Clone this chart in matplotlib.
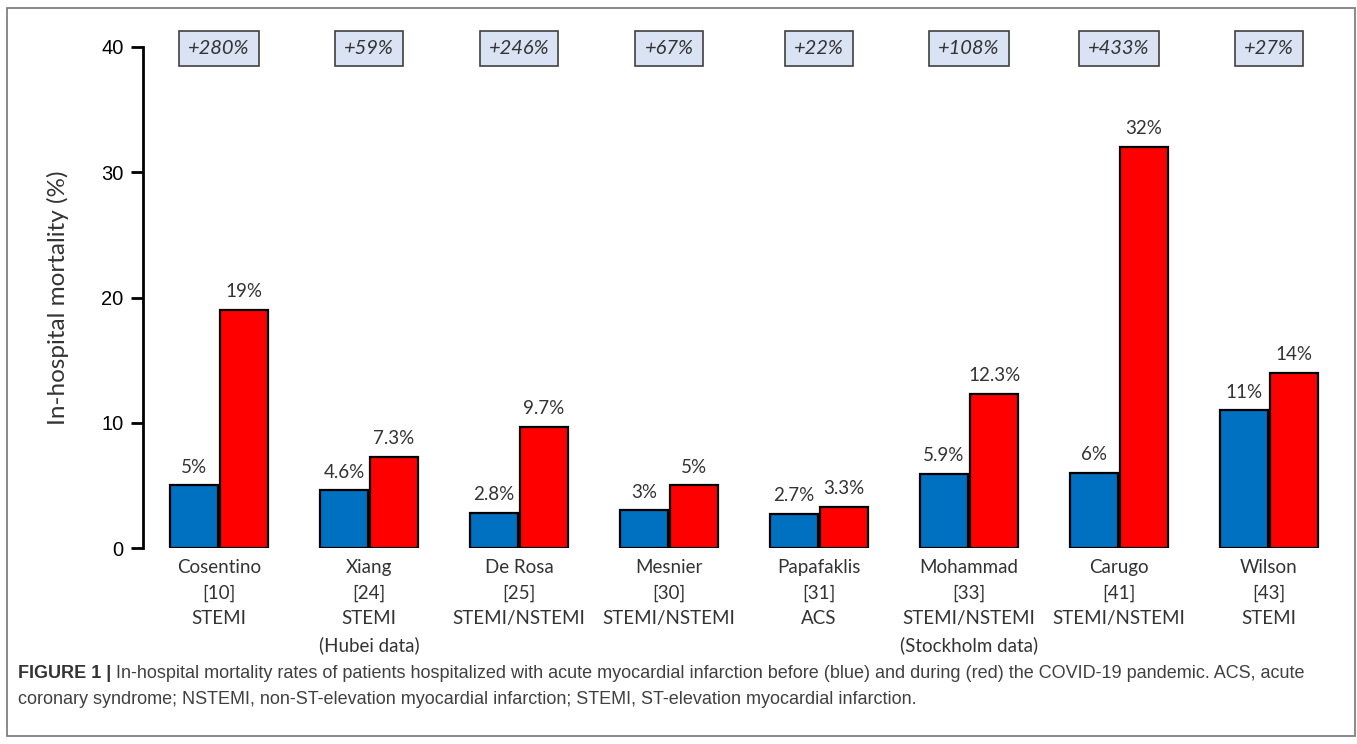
import matplotlib
matplotlib.use("Agg")
import matplotlib.pyplot as plt
from matplotlib.patches import Rectangle
import numpy as np

categories = ["Cosentino\n[10]\nSTEMI",
              "Xiang\n[24]\nSTEMI\n(Hubei data)",
              "De Rosa\n[25]\nSTEMI/NSTEMI",
              "Mesnier\n[30]\nSTEMI/NSTEMI",
              "Papafaklis\n[31]\nACS",
              "Mohammad\n[33]\nSTEMI/NSTEMI\n(Stockholm data)",
              "Carugo\n[41]\nSTEMI/NSTEMI",
              "Wilson\n[43]\nSTEMI"]
before = [5, 4.6, 2.8, 3, 2.7, 5.9, 6, 11]
during = [19, 7.3, 9.7, 5, 3.3, 12.3, 32, 14]
before_labels = ["5%", "4.6%", "2.8%", "3%", "2.7%", "5.9%", "6%", "11%"]
during_labels = ["19%", "7.3%", "9.7%", "5%", "3.3%", "12.3%", "32%", "14%"]
changes = ["+280%", "+59%", "+246%", "+67%", "+22%", "+108%", "+433%", "+27%"]
yticks = [0, 10, 20, 30, 40]

caption_bold = "FIGURE 1 | "
caption_line1 = ("In-hospital mortality rates of patients hospitalized with acute myocardial "
                 "infarction before (blue) and during (red) the COVID-19 pandemic. ACS, acute")
caption_line2 = ("coronary syndrome; NSTEMI, non-ST-elevation myocardial infarction; "
                 "STEMI, ST-elevation myocardial infarction.")

W, H = 1357, 744
fig = plt.figure(figsize=(W / 100, H / 100), dpi=100)
ax = fig.add_axes([143 / W, (H - 548) / H, 1201 / W, 501 / H])

x = np.arange(len(categories))
bw = 0.315
off = 0.167
ax.bar(x - off, before, bw, color="#0070C0", edgecolor="black", linewidth=1.6, zorder=2)
ax.bar(x + off, during, bw, color="#FF0000", edgecolor="black", linewidth=1.6, zorder=2)

lab_font = dict(family="Lato", fontsize=13.5, color="#333333")
for xi, v, t in zip(x, before, before_labels):
    ax.annotate(t, (xi - off, v), xytext=(0, 7), textcoords="offset points",
                ha="center", va="bottom", **lab_font)
for xi, v, t in zip(x, during, during_labels):
    ax.annotate(t, (xi + off, v), xytext=(0, 7), textcoords="offset points",
                ha="center", va="bottom", **lab_font)

for xi, t in zip(x, changes):
    ax.text(xi, 39.85, t, ha="center", va="center", family="Lato", style="italic",
            fontsize=14.5, color="#333333", clip_on=False,
            bbox=dict(boxstyle="square,pad=0.45", facecolor="#DAE3F3",
                      edgecolor="#404040", linewidth=1.2))

ax.set_xlim(-0.507, 7.5)
ax.set_ylim(0, 40)
ax.set_yticks(yticks)
ax.set_yticklabels([str(v) for v in yticks], family="Liberation Sans", fontsize=14.5)
ax.set_xticks(x)
ax.set_xticklabels(categories, family="Lato", fontsize=13.5, color="#333333", linespacing=1.6)
ax.tick_params(axis="x", length=0, pad=8)
ax.tick_params(axis="y", length=9, width=2, direction="out", pad=5)
for s in ["top", "right", "bottom"]:
    ax.spines[s].set_visible(False)
ax.spines["left"].set_linewidth(2)
ax.set_ylabel("In-hospital mortality (%)", family="Lato", fontsize=17.5, color="#333333")
ax.yaxis.set_label_coords(-(143 - 69) / 1201, 0.5)

# frame around figure
fig.patches.append(Rectangle((7 / W, 8 / H), (1355 - 7) / W, (736 - 8) / H,
                             transform=fig.transFigure, fill=False,
                             edgecolor="#808080", linewidth=1.3))

cap_size = 12.5
y1 = (H - 674) / H
y2 = (H - 699) / H
t1 = fig.text(18 / W, y1, caption_bold, family="Liberation Sans",
              weight="bold", fontsize=cap_size, color="#333333", va="center")
fig.canvas.draw()
bb = t1.get_window_extent()
t2 = fig.text(bb.x1 / W, y1, caption_line1, family="Liberation Sans",
              fontsize=cap_size, color="#404040", va="center")
fig.canvas.draw()
# fit caption width so the first line ends near x=1307 px
scale = (1307 - 18) / (t2.get_window_extent().x1 - 18)
cap_size *= scale
t1.set_fontsize(cap_size)
fig.canvas.draw()
bb = t1.get_window_extent()
t2.set_fontsize(cap_size)
t2.set_x(bb.x1 / W)
fig.text(18 / W, y2, caption_line2, family="Liberation Sans",
         fontsize=cap_size, color="#404040", va="center")

fig.savefig("out.png", dpi=100)
